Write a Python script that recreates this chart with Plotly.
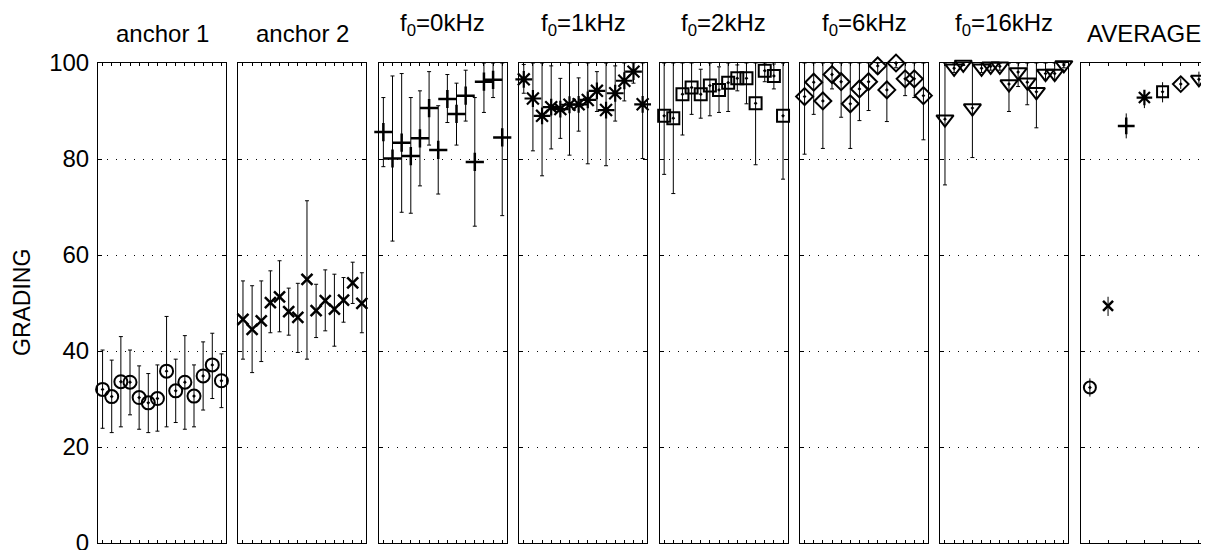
import plotly.graph_objects as go

# ---------------- data ----------------
panel_titles = ["anchor 1", "anchor 2", "f<sub>0</sub>=0kHz", "f<sub>0</sub>=1kHz",
                "f<sub>0</sub>=2kHz", "f<sub>0</sub>=6kHz", "f<sub>0</sub>=16kHz", "AVERAGE"]

anchor1_mean = [32.0, 30.5, 33.6, 33.5, 30.3, 29.2, 30.1, 35.8, 31.7, 33.5, 30.6, 34.8, 37.1, 33.8]
anchor1_lo = [23.9, 23.0, 24.2, 26.7, 23.7, 23.0, 23.3, 24.2, 25.1, 23.7, 24.2, 27.7, 30.1, 28.2]
anchor1_hi = [40.2, 38.1, 43.0, 40.2, 36.9, 35.3, 37.1, 47.2, 38.3, 43.2, 37.1, 41.9, 43.7, 39.4]

anchor2_mean = [46.6, 44.5, 46.3, 50.1, 51.3, 48.2, 47.0, 54.9, 48.4, 50.5, 48.7, 50.6, 54.2, 49.9]
anchor2_lo = [38.3, 35.5, 37.8, 43.8, 44.0, 43.3, 39.7, 38.3, 42.8, 44.2, 41.0, 46.0, 49.9, 43.8]
anchor2_hi = [54.6, 53.6, 54.6, 56.7, 58.8, 53.1, 54.1, 71.3, 53.9, 56.9, 56.0, 55.3, 58.5, 56.3]

f0_0_mean = [85.6, 80.1, 83.4, 80.6, 84.3, 90.6, 81.9, 92.5, 89.4, 93.2, 79.4, 96.1, 96.5, 84.5]
f0_0_lo = [78.4, 62.9, 68.9, 68.7, 74.4, 82.9, 72.7, 87.6, 82.9, 87.9, 66.0, 89.7, 92.8, 68.2]
f0_0_hi = [92.8, 97.3, 97.8, 92.8, 94.2, 98.2, 91.1, 97.6, 95.8, 98.5, 92.8, 100, 100, 100]

f0_1_mean = [96.6, 92.6, 89.0, 90.8, 90.4, 91.3, 91.4, 92.3, 94.2, 90.2, 93.7, 96.3, 98.2, 91.4]
f0_1_lo = [93.7, 81.7, 76.5, 82.1, 84.3, 80.8, 85.8, 79.0, 89.9, 78.6, 87.9, 92.1, 95.8, 80.1]
f0_1_hi = [99.7, 100, 100, 99.4, 96.8, 100, 96.9, 100, 98.2, 100, 99.4, 100, 100, 100]

f0_2_mean = [89.0, 88.5, 93.5, 94.9, 93.5, 95.3, 94.4, 95.9, 96.8, 96.8, 91.6, 98.4, 97.3, 89.0]
f0_2_lo = [76.8, 72.8, 85.0, 89.3, 88.5, 89.0, 89.7, 89.9, 94.2, 91.5, 78.8, 96.1, 94.6, 75.8]
f0_2_hi = [100, 100, 100, 100, 98.7, 100, 99.2, 100, 99.6, 100, 100, 100, 99.8, 100]

f0_6_mean = [93.0, 96.0, 92.1, 97.6, 96.1, 91.5, 94.6, 96.1, 99.4, 94.4, 100.0, 96.7, 96.7, 93.2]
f0_6_lo = [81.0, 89.3, 82.2, 94.6, 88.7, 82.2, 88.0, 90.1, 97.8, 87.8, 99.0, 93.2, 92.8, 84.0]
f0_6_hi = [100, 100, 100, 100, 100, 100, 100, 100, 100, 100, 100, 100, 100, 100]

f0_16_mean = [88.3, 98.9, 99.7, 90.6, 98.9, 99.3, 99.3, 95.6, 98.1, 96.0, 94.0, 97.8, 97.8, 99.6]
f0_16_lo = [74.6, 98.0, 99.5, 80.3, 98.0, 98.5, 98.5, 89.9, 95.1, 91.3, 86.5, 96.5, 96.5, 99.0]
f0_16_hi = [100, 100, 100, 100, 100, 100, 100, 100, 100, 100, 100, 100, 100, 100]

avg_mean = [32.4, 49.4, 86.9, 92.8, 94.0, 95.6, 96.6]
avg_lo = [30.5, 47.3, 84.3, 90.6, 91.8, 94.6, 95.2]
avg_hi = [34.3, 51.3, 89.5, 94.0, 96.0, 96.8, 98.2]

y_ticks = [0, 20, 40, 60, 80, 100]
y_label = "GRADING"

# ---------------- styles ----------------
symbols = ["circle-open-dot", "x-thin-open", "cross-thin-open", "asterisk-open",
           "square-open-dot", "diamond-open-dot", "triangle-down-open-dot"]
sizes = [13, 11, 13, 14, 12, 13, 15]
lwidths = [2, 2.5, 2.5, 2.2, 2, 2, 2]

series = [(anchor1_mean, anchor1_lo, anchor1_hi),
          (anchor2_mean, anchor2_lo, anchor2_hi),
          (f0_0_mean, f0_0_lo, f0_0_hi),
          (f0_1_mean, f0_1_lo, f0_1_hi),
          (f0_2_mean, f0_2_lo, f0_2_hi),
          (f0_6_mean, f0_6_lo, f0_6_hi),
          (f0_16_mean, f0_16_lo, f0_16_hi)]

# page body has an 8px margin: compensate
W, H = 1201, 542
ML, MR, MT, MB = 90, 1, 55, 7
plot_w = W - ML - MR
stride = 140.4
pw = 128.0

FONT = "Arial, Liberation Sans, Helvetica, sans-serif"

fig = go.Figure()
layout = {}

def add_axes(i, n):
    d0 = stride * i / plot_w
    d1 = min((stride * i + pw) / plot_w, 1.0)
    xa = "xaxis" if i == 0 else f"xaxis{i+1}"
    ya = "yaxis" if i == 0 else f"yaxis{i+1}"
    layout[xa] = dict(domain=[d0, d1], range=[0.5, n + 0.5], anchor=f"y{'' if i == 0 else i+1}",
                      showgrid=False, zeroline=False, showline=True, linecolor="black",
                      linewidth=1, mirror="ticks", ticks="inside", ticklen=3, tickcolor="black",
                      tickvals=list(range(1, n + 1)), showticklabels=False, fixedrange=True,
                      automargin=False)
    layout[ya] = dict(domain=[0, 1], range=[0, 100], anchor=f"x{'' if i == 0 else i+1}",
                      showgrid=True, gridcolor="black", gridwidth=1, griddash="1px,8px",
                      zeroline=False, showline=True, linecolor="black", linewidth=1,
                      mirror="ticks", ticks="inside", ticklen=4, tickcolor="black",
                      tickvals=y_ticks, showticklabels=(i == 0),
                      tickfont=dict(family=FONT, size=24, color="black"),
                      ticklabelstandoff=3, ticklabeloverflow="allow", fixedrange=True,
                      automargin=False)
    return d0, d1

centers = []
for i, (m, lo, hi) in enumerate(series):
    n = len(m)
    d0, d1 = add_axes(i, n)
    centers.append((d0 + d1) / 2)
    xs = list(range(1, n + 1))
    fig.add_trace(go.Scatter(
        x=xs, y=m, mode="markers", xaxis=f"x{'' if i == 0 else i+1}", yaxis=f"y{'' if i == 0 else i+1}",
        marker=dict(symbol=symbols[i], size=sizes[i], color="black",
                    line=dict(color="black", width=lwidths[i])),
        error_y=dict(type="data", symmetric=False,
                     array=[h - v for h, v in zip(hi, m)],
                     arrayminus=[v - l for v, l in zip(m, lo)],
                     color="black", thickness=1, width=2),
        cliponaxis=False, showlegend=False, hoverinfo="skip"))

# average panel
i = 7
n = len(avg_mean)
d0, d1 = add_axes(i, n)
centers.append((d0 + d1) / 2)
for k in range(n):
    fig.add_trace(go.Scatter(
        x=[k + 1], y=[avg_mean[k]], mode="markers", xaxis="x8", yaxis="y8",
        marker=dict(symbol=symbols[k], size=sizes[k] - 1, color="black",
                    line=dict(color="black", width=lwidths[k])),
        error_y=dict(type="data", symmetric=False,
                     array=[avg_hi[k] - avg_mean[k]], arrayminus=[avg_mean[k] - avg_lo[k]],
                     color="black", thickness=1, width=0),
        cliponaxis=False, showlegend=False, hoverinfo="skip"))

annotations = []
for c, t in zip(centers, panel_titles):
    is_sub = "<sub>" in t
    annotations.append(dict(text=t, x=c, y=1, xref="paper", yref="paper",
                            xanchor="center", yanchor="bottom",
                            yshift=(21 if is_sub else 14), showarrow=False,
                            font=dict(family=FONT, size=24, color="black")))
annotations.append(dict(text=y_label, x=(22 - 98) / plot_w, y=50, xref="paper", yref="y",
                        xanchor="center", yanchor="middle", textangle=-90, showarrow=False,
                        font=dict(family=FONT, size=23, color="black")))

fig.update_layout(width=W, height=H, margin=dict(l=ML, r=MR, t=MT, b=MB, pad=0, autoexpand=False),
                  paper_bgcolor="white", plot_bgcolor="white",
                  annotations=annotations, **layout)

fig.write_html("out.html")
